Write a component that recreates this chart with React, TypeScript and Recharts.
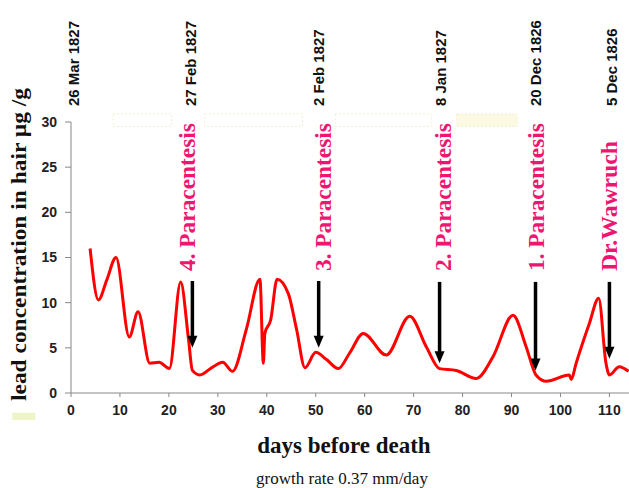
import {
  LineChart,
  Line,
  XAxis,
  YAxis,
  ReferenceLine,
  ReferenceDot,
  ReferenceArea,
} from "recharts";

// days before death / lead concentration (µg/g)
const days = [
  3.9, 5.6, 7.3, 9.2, 11.9, 13.7, 16.1, 18.0, 20.1, 22.4, 24.0, 24.8, 26.3, 29.0, 31.0, 33.0,
  35.8, 38.6, 39.3, 39.6, 40.8, 42.1, 44.4, 46.1, 47.8, 50.0, 52.2, 54.6, 56.9, 59.7, 64.4,
  69.2, 72.6, 75.3, 78.7, 82.8, 86.2, 90.3, 93.0, 95.0, 97.1, 101.8, 102.2, 103.2, 105.9,
  107.8, 109.3, 110.0, 112.0, 113.9,
];
const lead = [
  16.0, 10.3, 12.5, 15.0, 6.2, 9.0, 3.3, 3.4, 2.7, 12.3, 6.0, 2.5, 2.0, 2.9, 3.4, 2.4,
  7.0, 12.6, 3.3, 6.6, 8.1, 12.6, 11.0, 7.0, 2.8, 4.5, 3.7, 2.7, 4.4, 6.6, 4.2,
  8.5, 5.1, 2.7, 2.5, 1.6, 4.0, 8.6, 5.1, 2.0, 1.3, 2.0, 1.5, 3.3, 7.7,
  10.5, 3.3, 2.0, 2.9, 2.4,
];

const xTicks = [0, 10, 20, 30, 40, 50, 60, 70, 80, 90, 100, 110];
const yTicks = [0, 5, 10, 15, 20, 25, 30];

const dateLabels = ["26 Mar 1827", "27 Feb 1827", "2 Feb 1827", "8 Jan 1827", "20 Dec 1826", "5 Dec 1826"];
const dateDays = [0.4, 24.3, 50.4, 75.3, 94.7, 110.4];

const eventLabels = ["4. Paracentesis", "3. Paracentesis", "2. Paracentesis", "1. Paracentesis", "Dr.Wawruch"];
const eventDays = [23.7, 51.4, 75.9, 95.1, 110];
const eventLen = [148, 148, 148, 148, 130];
const arrowDays = [24.8, 50.6, 75.3, 94.9, 110];
const arrowTop = [12.4, 12.4, 12.3, 12.3, 12.3];
const arrowTip = [5.0, 5.0, 3.3, 2.5, 3.8];

// faint boxes along the top of the plot
const boxes = [
  { x1: 8.6, x2: 20.6, fill: "none" },
  { x1: 27.3, x2: 47.3, fill: "none" },
  { x1: 54, x2: 73.7, fill: "none" },
  { x1: 78.8, x2: 91.2, fill: "#fbf9e2" },
];

const data = days.map((d, i) => ({ day: d, lead: lead[i] }));

const PINK = "#ee1670";
const tickStyle = { fontFamily: "Liberation Sans, Arial", fontWeight: 700, fontSize: 14, fill: "#222" };

export default function App() {
  return (
    <div style={{ width: 629, height: 488 }}>
      <style>{`body{margin:0}`}</style>
      <LineChart width={629} height={488} data={data} margin={{ top: 122, right: 0, left: 0, bottom: 0 }}>
        <XAxis
          type="number"
          dataKey="day"
          domain={[0, 114]}
          ticks={xTicks}
          allowDataOverflow
          height={95}
          stroke="#888"
          tickSize={4}
          tickMargin={8}
          tick={tickStyle}
          label={{
            content: () => (
              <g>
                <text x={344} y={453} textAnchor="middle" fontFamily="Liberation Serif, Times New Roman" fontWeight={700} fontSize={23} fill="#111">
                  days before death
                </text>
                <text x={342} y={484} textAnchor="middle" fontFamily="Liberation Serif, Times New Roman" fontSize={17} fill="#111">
                  growth rate 0.37 mm/day
                </text>
              </g>
            ),
          }}
        />
        <YAxis
          type="number"
          domain={[0, 30]}
          ticks={yTicks}
          width={71}
          stroke="#888"
          tickSize={6}
          tickMargin={8}
          tick={tickStyle}
          label={{
            content: () => (
              <text
                x={26}
                y={401}
                transform="rotate(-90, 26, 401)"
                textAnchor="start"
                fontFamily="Liberation Serif, Times New Roman"
                fontWeight={700}
                fontSize={22}
                textLength={313}
                lengthAdjust="spacingAndGlyphs"
                fill="#111"
              >
                lead concentration in hair µg /g
              </text>
            ),
          }}
        />
        {boxes.map((b, i) => (
          <ReferenceArea
            key={"b" + i}
            x1={b.x1}
            x2={b.x2}
            y1={29.5}
            y2={30.9}
            ifOverflow="visible"
            fill={b.fill}
            fillOpacity={1}
            stroke="#f1eed2"
            strokeDasharray="2 2"
          />
        ))}
        <ReferenceArea x1={-12} x2={-7.3} y1={-2.2} y2={-3.0} ifOverflow="visible" fill="#eef4c8" fillOpacity={1} />
        <Line
          type="monotone"
          dataKey="lead"
          stroke="#ff0000"
          strokeWidth={3}
          dot={false}
          isAnimationActive={false}
        />
        {arrowDays.map((d, i) => (
          <ReferenceLine
            key={"a" + i}
            segment={[
              { x: d, y: arrowTop[i] },
              { x: d, y: arrowTip[i] + 0.8 },
            ]}
            stroke="#000"
            strokeWidth={3.5}
            ifOverflow="visible"
          />
        ))}
        {arrowDays.map((d, i) => (
          <ReferenceDot
            key={"h" + i}
            x={d}
            y={arrowTip[i]}
            ifOverflow="visible"
            shape={(p: any) => (
              <path d={`M${p.cx - 5},${p.cy - 12} L${p.cx + 5},${p.cy - 12} L${p.cx},${p.cy} Z`} fill="#000" />
            )}
          />
        ))}
        {eventDays.map((d, i) => (
          <ReferenceDot
            key={"e" + i}
            x={d}
            y={13.5}
            ifOverflow="visible"
            shape={(p: any) => (
              <text
                x={p.cx + 8}
                y={p.cy}
                transform={`rotate(-90, ${p.cx + 8}, ${p.cy})`}
                textAnchor="start"
                fontFamily="Liberation Serif, Times New Roman"
                fontWeight={700}
                fontSize={24}
                textLength={eventLen[i]}
                lengthAdjust="spacingAndGlyphs"
                fill={PINK}
              >
                {eventLabels[i]}
              </text>
            )}
          />
        ))}
        {dateDays.map((d, i) => (
          <ReferenceDot
            key={"d" + i}
            x={d}
            y={30}
            ifOverflow="visible"
            shape={(p: any) => (
              <text
                x={p.cx + 6}
                y={p.cy - 16}
                transform={`rotate(-90, ${p.cx + 6}, ${p.cy - 16})`}
                textAnchor="start"
                fontFamily="Liberation Sans, Arial"
                fontWeight={700}
                fontSize={15}
                fill="#111"
              >
                {dateLabels[i]}
              </text>
            )}
          />
        ))}
      </LineChart>
    </div>
  );
}
